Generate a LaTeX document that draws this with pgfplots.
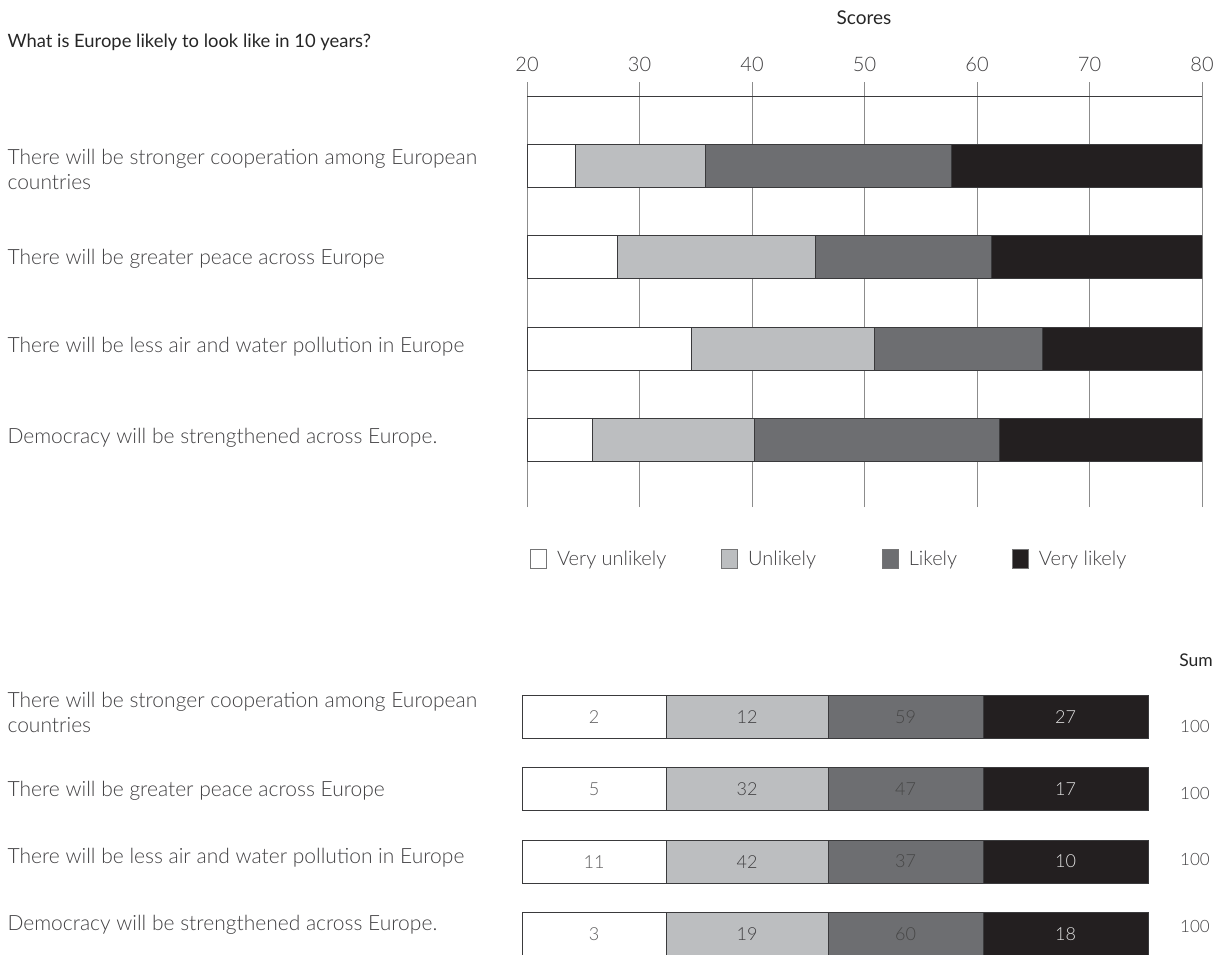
\documentclass[border=0pt]{standalone}
\usepackage{fontspec}
\setmainfont{Lato}
\newfontfamily\lal{Lato Light}
\usepackage{pgfplots}
\pgfplotsset{compat=1.18}
\definecolor{cVU}{HTML}{FFFFFF}
\definecolor{cU}{HTML}{BCBEC0}
\definecolor{cL}{HTML}{6D6E71}
\definecolor{cVL}{HTML}{231F20}
\definecolor{edge}{HTML}{3A3A3C}
\definecolor{gridc}{HTML}{8C8C8C}
\definecolor{txt}{HTML}{414042}
\begin{document}
\begin{tikzpicture}
\useasboundingbox (0pt,0pt) rectangle (1219pt,-954pt);
\begin{scope}
\clip (0pt,0pt) rectangle (1219pt,-954pt);
% ---------------- top chart ----------------
\begin{scope}[shift={(527pt,-96pt)}]
\begin{axis}[
  at={(0pt,0pt)}, anchor=north west,
  width=675pt, height=411pt, scale only axis,
  xmin=20, xmax=80, ymin=-0.734, ymax=3.767,
  xbar stacked, bar width=43pt,
  axis x line*=top, axis y line=none,
  xtick={20,30,40,50,60,70,80}, ytick=\empty,
  tick align=outside, major tick length=14pt,
  xmajorgrids, grid style={gridc, line width=1pt},
  tick style={gridc, line width=1pt},
  x axis line style={edge, line width=1pt},
  /pgf/number format/assume math mode=true,
  xticklabel style={font=\lal\fontsize{20}{22}\selectfont, text=txt, yshift=7pt},
  every axis plot post/.append style={legend image code/.code={\draw[#1, draw=edge!70, line width=0.8pt] (0pt,-9.5pt) rectangle (16pt,9.5pt);}},
  legend columns=4,
  legend style={at={(0,0)}, anchor=north west, xshift=0pt, yshift=-40pt, draw=none, fill=none,
    font=\lal\fontsize{20}{22}\selectfont, text=txt,
    /tikz/every odd column/.append style={column sep=8pt},
    /tikz/column 2/.append style={column sep=53pt},
    /tikz/column 4/.append style={column sep=64pt},
    /tikz/column 6/.append style={column sep=53pt}},
]
\addplot[draw=none, fill=none, forget plot] coordinates {(20,3) (20,2) (20,1) (20,0)};
\addplot[fill=cVU, draw=edge, line width=0.8pt] coordinates {(4.3,3) (8.0,2) (14.6,1) (5.8,0)};
\addlegendentry{Very unlikely}
\addplot[fill=cU, draw=edge, line width=0.8pt] coordinates {(11.6,3) (17.6,2) (16.3,1) (14.4,0)};
\addlegendentry{Unlikely}
\addplot[fill=cL, draw=edge, line width=0.8pt] coordinates {(21.8,3) (15.7,2) (14.9,1) (21.8,0)};
\addlegendentry{Likely}
\addplot[fill=cVL, draw=edge, line width=0.8pt] coordinates {(22.3,3) (18.7,2) (14.2,1) (18.0,0)};
\addlegendentry{Very likely}
\end{axis}
\end{scope}
% ---------------- bottom table bars ----------------
\begin{scope}[shift={(522pt,-680.8pt)}]
\begin{axis}[
  at={(0pt,0pt)}, anchor=north west,
  width=697pt, height=289.3pt, scale only axis,
  xmin=0, xmax=697, ymin=-0.5, ymax=3.5,
  axis lines=none, clip=false,
  xbar stacked, bar width=43pt,
]
\addplot[fill=cVU, draw=edge, line width=0.8pt] coordinates {(144,3) (144,2) (144,1) (144,0)};
\addplot[fill=cU, draw=edge, line width=0.8pt] coordinates {(162,3) (162,2) (162,1) (162,0)};
\addplot[fill=cL, draw=edge, line width=0.8pt] coordinates {(155,3) (155,2) (155,1) (155,0)};
\addplot[fill=cVL, draw=edge, line width=0.8pt] coordinates {(165,3) (165,2) (165,1) (165,0)};
\end{axis}
% ---------------- cell values and sums ----------------
\begin{axis}[
  at={(0pt,0pt)}, anchor=north west,
  width=697pt, height=289.3pt, scale only axis,
  xmin=0, xmax=697, ymin=-0.5, ymax=3.5,
  axis lines=none, clip=false,
  point meta=explicit symbolic,
]
\addplot[draw=none, mark=none, nodes near coords,
  every node near coord/.append style={anchor=center, text=txt!85, font=\lal\fontsize{18}{20}\selectfont}]
  coordinates {(72,3)[2] (72,2)[5] (72,1)[11] (72,0)[3]};
\addplot[draw=none, mark=none, nodes near coords,
  every node near coord/.append style={anchor=center, text=txt, font=\lal\fontsize{18}{20}\selectfont}]
  coordinates {(225,3)[12] (225,2)[32] (225,1)[42] (225,0)[19]};
\addplot[draw=none, mark=none, nodes near coords,
  every node near coord/.append style={anchor=center, text=black!72, font=\lal\fontsize{18}{20}\selectfont}]
  coordinates {(383.5,3)[59] (383.5,2)[47] (383.5,1)[37] (383.5,0)[60]};
\addplot[draw=none, mark=none, nodes near coords,
  every node near coord/.append style={anchor=center, text=white!88!black, font=\lal\fontsize{18}{20}\selectfont}]
  coordinates {(543.5,3)[27] (543.5,2)[17] (543.5,1)[10] (543.5,0)[18]};
\addplot[draw=none, mark=none, nodes near coords,
  every node near coord/.append style={anchor=center, text=txt, font=\lal\fontsize{17}{20}\selectfont}]
  coordinates {(673,2.862)[100] (673,1.936)[100] (673,1.023)[100] (673,0.097)[100]};
\end{axis}
\end{scope}
\end{scope}
% ---------------- texts ----------------
\node[anchor=center, font=\fontsize{19}{22}\selectfont, text=black!85] at (864pt,-18pt) {Scores};
\node[anchor=west, font=\fontsize{18.4}{22}\selectfont, text=black!85] at (4pt,-42pt) {What is Europe likely to look like in 10 years?};
\begin{scope}[every node/.style={anchor=west, align=left, text=txt, font=\lal\fontsize{21}{25}\selectfont}]
\node at (4pt,-169pt) {There will be stronger cooperation among European\\countries};
\node at (4pt,-259pt) {There will be greater peace across Europe};
\node at (4pt,-347pt) {There will be less air and water pollution in Europe};
\node at (4pt,-438pt) {Democracy will be strengthened across Europe.};
\node at (4pt,-712.5pt) {There will be stronger cooperation among European\\countries};
\node at (4pt,-791pt) {There will be greater peace across Europe};
\node at (4pt,-858pt) {There will be less air and water pollution in Europe};
\node at (4pt,-925pt) {Democracy will be strengthened across Europe.};
\end{scope}
\node[anchor=center, font=\fontsize{17.5}{20}\selectfont, text=black!85] at (1196pt,-660pt) {Sum};
\end{tikzpicture}
\end{document}
